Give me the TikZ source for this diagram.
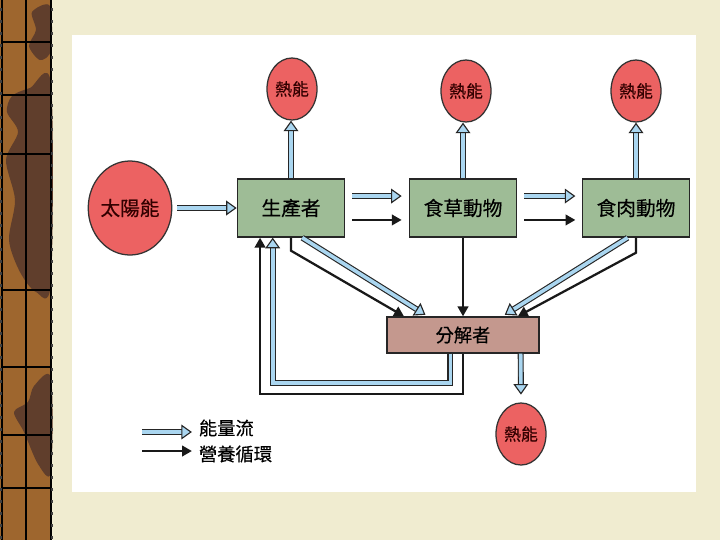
\documentclass[tikz,border=0pt]{standalone}
\usepackage{fontspec}
\setmainfont{Noto Sans CJK TC}[FakeBold=0.4]
\usetikzlibrary{arrows.meta,positioning,shapes.geometric,calc}

\definecolor{wood}{RGB}{158,102,46}
\definecolor{wooddark}{RGB}{96,62,44}
\definecolor{paper}{RGB}{240,236,208}
\definecolor{heatred}{RGB}{236,98,98}
\definecolor{boxgreen}{RGB}{158,188,150}
\definecolor{boxbrown}{RGB}{196,152,142}
\definecolor{skyarrow}{RGB}{170,214,240}

\begin{document}
\begin{tikzpicture}[
    x=0.025cm, y=-0.025cm,
    heat/.style={ellipse, draw=black!80, line width=0.9pt, fill=heatred, minimum width=1.25cm, minimum height=1.55cm, inner sep=0pt, font=\fontsize{12}{12}\selectfont, text=black!80!red},
    box/.style={rectangle, draw=black!85, line width=1pt, fill=boxgreen, minimum width=2.68cm, minimum height=1.45cm, font=\fontsize{14}{14}\selectfont},
    energy/.style={draw=black!85, line width=0.8pt, double=skyarrow, double distance=2.6pt, -{Triangle[length=7.5pt, width=10.5pt, fill=skyarrow, line width=0.8pt]}},
    nutrient/.style={draw=black!90, line width=1.6pt, -{Triangle[length=7pt, width=7.5pt]}},
    keytext/.style={anchor=west, font=\fontsize{13}{13}\selectfont}
]
\useasboundingbox (0,0) rectangle (720,540);

% Background
\fill[paper] (0,0) rectangle (720,540);
\fill[white] (72,35) rectangle (696,492);

% Wooden border
\fill[wood] (0,0) rectangle (52,540);
\fill[wooddark] plot[smooth cycle] coordinates {(32,12) (50,6) (51,50) (40,60) (29,46) (36,30)};
\fill[wooddark] plot[smooth cycle] coordinates {(12,96) (30,88) (51,84) (51,282) (36,292) (20,272) (9,240) (15,200) (6,160) (18,132) (7,112)};
\fill[wooddark] plot[smooth cycle] coordinates {(34,386) (51,378) (51,472) (38,464) (24,432) (14,412) (28,402)};
\draw[line width=1.3pt] (2,0) -- (2,540) (51,0) -- (51,540);
\draw[line width=0.8pt] (26,0) -- (26,540);
\foreach \y in {42,95,154,290,367,435,488} {
    \draw[line width=0.8pt] (2,\y) -- (51,\y);
}
\foreach \y in {8,20,...,536} {
    \fill[black!75] (0,\y) rectangle (2,\y+3);
    \fill[black!75] (51,\y) rectangle (53,\y+3);
}

% Sun
\node[heat, minimum width=1.85cm, minimum height=2.35cm, font=\fontsize{14}{14}\selectfont] (sun) at (130,208) {太陽能};

% Trophic levels
\node[box] (producer) at (291,208) {生產者};
\node[box] (herbivore) at (463,208) {食草動物};
\node[box] (carnivore) at (636,208) {食肉動物};
\node[box, fill=boxbrown, minimum width=3.8cm, minimum height=0.9cm, font=\fontsize{13}{13}\selectfont] (decomposer) at (463,335) {分解者};

% Heat
\foreach \n/\x/\y in {1/292/89, 2/466/91, 3/636/91, 4/521/434} {
    \node[heat] (heat\n) at (\x,\y) {熱能};
}

% Energy flow
\draw[energy, shorten <=3.5pt] (sun) -- (producer);
\draw[energy] (producer.north) -- (producer.north |- heat1.south);
\draw[energy] (herbivore.north) -- (herbivore.north |- heat2.south);
\draw[energy] (carnivore.north) -- (carnivore.north |- heat3.south);
\draw[energy, shorten <=5pt, shorten >=5pt] ([yshift=8.5pt]producer.east) -- ([yshift=8.5pt]herbivore.west);
\draw[energy, shorten <=5pt, shorten >=4.5pt] ([yshift=8.5pt]herbivore.east) -- ([yshift=8.5pt]carnivore.west);
\draw[energy, shorten >=2pt] ([xshift=8pt]producer.south) -- ([xshift=-25pt]decomposer.north);
\draw[energy, shorten >=2pt] ([xshift=-6pt]carnivore.south) -- ([xshift=28pt]decomposer.north);
\draw[energy] ([xshift=-9pt]decomposer.south) -- ++(0,29) -| ([xshift=-13pt]producer.south);
\draw[energy, shorten >=5.5pt] ([xshift=41pt]decomposer.south) -- (heat4.north);

% Nutrient cycle
\draw[nutrient, shorten <=5pt, shorten >=5pt] ([yshift=-8.5pt]producer.east) -- ([yshift=-8.5pt]herbivore.west);
\draw[nutrient, shorten <=5pt, shorten >=4.5pt] ([yshift=-8.5pt]herbivore.east) -- ([yshift=-8.5pt]carnivore.west);
\draw[nutrient] (producer.south) -- ++(0,13) -- ([xshift=-42pt]decomposer.north);
\draw[nutrient] (herbivore.south) -- (decomposer.north);
\draw[nutrient] (carnivore.south) -- ++(0,15) -- ([xshift=39pt]decomposer.north);
\draw[nutrient] (decomposer.south) -- ++(0,40) -| ([xshift=-22pt]producer.south);

% Key
\node[keytext] (keyenergy) at (194,428) {能量流};
\node[keytext] (keycycle) at (194,454) {營養循環};
\coordinate (keyenergystart) at (142,432);
\coordinate (keycyclestart) at (142,451);
\draw[energy, shorten >=1.5pt] (keyenergystart) -- (keyenergystart -| keyenergy.west);
\draw[nutrient, shorten >=1.5pt] (keycyclestart) -- (keycyclestart -| keycycle.west);

\end{tikzpicture}
\end{document}
